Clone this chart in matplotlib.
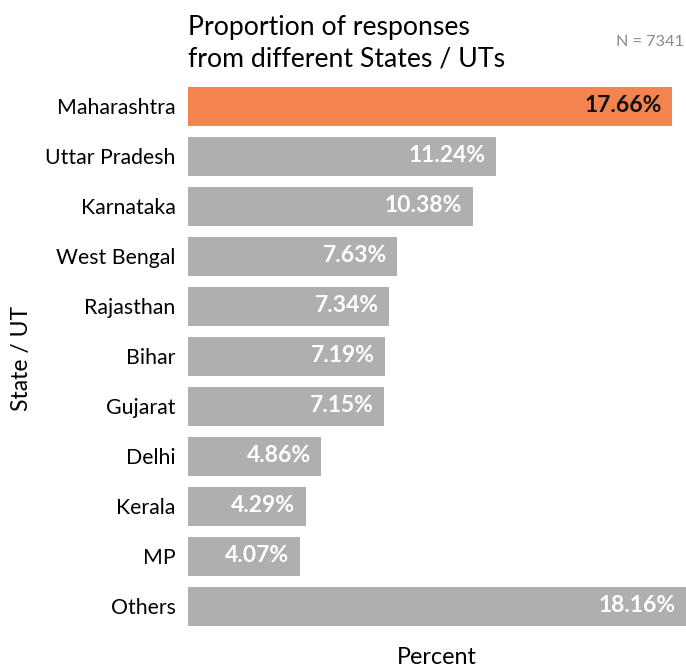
import matplotlib
matplotlib.use("Agg")
import matplotlib.pyplot as plt

plt.rcParams['font.family'] = ['Lato', 'DejaVu Sans']

states = ["Maharashtra", "Uttar Pradesh", "Karnataka", "West Bengal", "Rajasthan",
          "Bihar", "Gujarat", "Delhi", "Kerala", "MP", "Others"]
percent = [17.66, 11.24, 10.38, 7.63, 7.34, 7.19, 7.15, 4.86, 4.29, 4.07, 18.16]
n_total = 7341

highlight = "Maharashtra"
orange = "#F3834F"
grey = "#AFAFAF"

W, H = 686, 669
fig = plt.figure(figsize=(W / 100, H / 100), dpi=100)
ax = fig.add_axes([188 / W, 1 - 631 / H, 1 - 188 / W, 550 / H])

ypos = list(range(len(states)))
colors = [orange if s == highlight else grey for s in states]
ax.barh(ypos, percent, height=0.78, color=colors)

for y, v, s in zip(ypos, percent, states):
    ax.text(v - 0.38, y, f"{v:.2f}%", ha="right", va="center",
            fontsize=16.5, fontweight="bold",
            color="#111111" if s == highlight else "white")

ax.set_yticks(ypos)
ax.set_yticklabels(states, fontsize=15.3)
ax.set_ylim(len(states) - 0.5, -0.5)
ax.set_xlim(0, max(percent))
ax.set_xticks([])
ax.tick_params(axis="y", length=0, pad=9)
for sp in ax.spines.values():
    sp.set_visible(False)

# axis titles placed directly so they sit where the layout needs them
fig.text(437 / W, 1 - 657 / H, "Percent", ha="center", va="center", fontsize=16.8)
fig.text(22 / W, 1 - 358 / H, "State / UT", rotation=90, ha="center",
         va="center", fontsize=16.5)

fig.text(188 / W, 1 - 35 / H, "Proportion of responses", ha="left",
         va="baseline", fontsize=19.2)
fig.text(188 / W, 1 - 66 / H, "from different States / UTs", ha="left",
         va="baseline", fontsize=19.2)
fig.text(684 / W, 1 - 42 / H, f"N = {n_total}", ha="right", va="center",
         fontsize=11.7, color="#8A8A8A")

fig.savefig("out.png", dpi=100)
